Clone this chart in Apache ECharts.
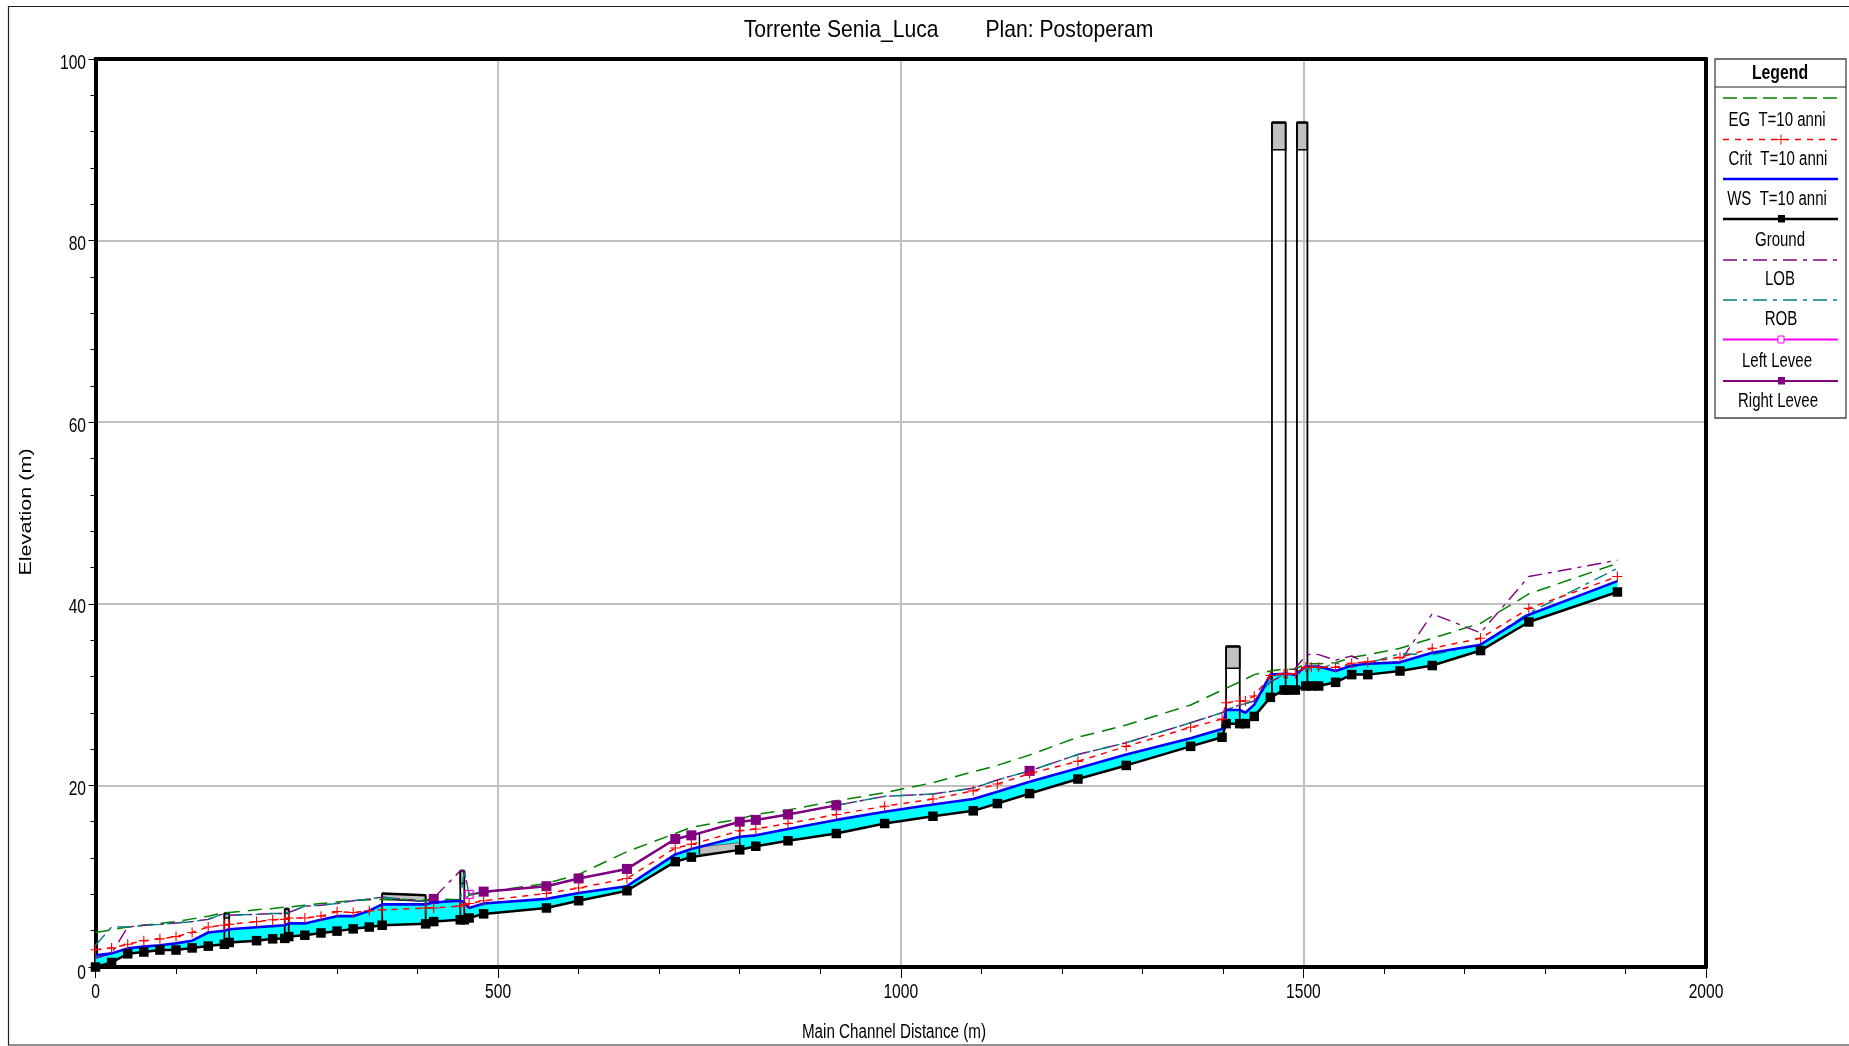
<!DOCTYPE html>
<html><head><meta charset="utf-8"><style>html,body{margin:0;padding:0;background:#fff}#c{width:1849px;height:1046px}</style>
<script src="https://cdn.jsdelivr.net/npm/echarts@6/dist/echarts.min.js"></script></head>
<body><div id="c"></div><script>
const stations=[0,20,40,60,80,100,120,140,160,166,200,220,235,240,260,280,300,320,340,356,410,420,453,458,464,482,560,600,660,720,740,800,820,860,920,980,1040,1090,1120,1160,1220,1280,1360,1399,1404,1421,1428,1439,1459,1476,1480,1490,1503,1510,1519,1540,1560,1580,1620,1660,1720,1780,1890];
const ground=[0,0.5,1.45,1.65,1.87,1.87,2.1,2.3,2.5,2.7,2.9,3.1,3.15,3.35,3.5,3.75,3.95,4.2,4.4,4.6,4.75,5,5.2,5.2,5.4,5.85,6.5,7.3,8.4,11.6,12.1,12.9,13.3,13.9,14.7,15.8,16.6,17.2,18,19.1,20.7,22.2,24.3,25.3,26.8,26.8,26.8,27.6,29.7,30.5,30.5,30.5,30.95,30.95,30.95,31.35,32.2,32.2,32.6,33.2,34.85,38,41.3];
const ws=[1.28,1.5,2.05,2.24,2.4,2.6,2.9,3.8,4,4.15,4.37,4.5,4.6,4.8,4.8,5.2,5.6,5.6,6.2,6.9,6.9,7.1,7.3,7.1,6.5,7,7.5,8.15,8.9,12.4,13,14.35,14.5,15.2,16.2,17.1,17.9,18.5,19.3,20.4,21.9,23.4,25.2,26.2,28.3,28.3,28,28.9,32.2,32.3,32.3,32.2,33.1,33.1,33.1,32.6,33.2,33.4,33.55,34.6,35.5,38.8,42.5];
const crit=[1.9,2.1,2.5,2.9,3.1,3.35,3.8,4.4,4.6,4.7,5,5.2,5.25,5.4,5.4,5.6,6.1,6,6.2,6.3,6.5,6.5,6.7,6.9,7,7.3,8.1,8.7,9.75,13.1,13.5,15,15.2,15.8,16.8,17.7,18.5,19.4,20.15,21.3,22.65,24.3,26.4,27.3,29.1,29.3,29.3,29.85,32.1,32.3,32.3,32.3,33,33,33,33,33.45,33.6,34.1,35.1,36.2,39.5,43];
const eg=[3.8,4.1,4.4,4.6,4.8,5,5.3,5.6,6,6,6.3,6.45,6.6,6.6,6.8,7,7.15,7.3,7.4,7.45,7.4,7.5,7.4,7.45,7.9,8.2,9.2,10.2,12.7,14.7,15.4,16.3,16.8,17.3,18.3,19.2,20.3,21.5,22.2,23.35,25.3,26.65,28.85,30.5,30.7,31.4,31.7,32.2,32.6,32.8,32.8,32.8,33.4,33.4,33.4,33.5,34.1,34.4,35.1,36.2,37.85,41.1,44.45];
const lob=[0.95,1.5,4.4,4.6,4.7,4.85,5,5.25,5.9,5.7,5.8,5.9,5.9,6,6.7,6.8,7,7.3,7.5,7.7,7.2,7.6,10.6,10.6,8,8.3,8.9,9.75,10.8,14.1,14.5,16,16.2,16.8,17.8,18.8,19.05,19.7,20.6,21.6,23.4,24.7,26.9,28,28.3,28.85,29,29.3,31.4,32.2,32.4,32.9,34.3,34.5,34.4,33.8,34.25,33.45,33.6,38.9,36.8,43,44.8];
const rob=[2.4,4.4,4.4,4.6,4.7,4.85,5,5.25,5.9,5.7,5.8,5.9,5.9,6,6.7,6.8,7,7.3,7.5,7.7,7.2,7.3,7.3,10.6,8,8.3,8.9,9.75,10.8,14.1,14.5,16,16.2,16.8,17.8,18.8,19.05,19.7,20.6,21.6,23.4,24.7,26.9,28,28.3,28.85,29,29.3,31.5,32.2,32.2,32.3,32.8,32.8,32.8,33.5,33,33.45,34.5,34.4,35.5,39,43.9];
const leftLeveeStations=[464];
const leftLeveeValues=[8];
const rightLeveeStations=[420,null,482,560,600,660,720,740,800,820,860,920,null,1160];
const rightLeveeValues=[7.5,null,8.3,8.9,9.75,10.8,14.1,14.5,16,16.2,16.8,17.8,null,21.6];
const structStart=[160,235,356,453,1404,1461,1492];
const structEnd=[166,240,410,458,1421,1478,1505];
const structTopStart=[5.9,6.4,8.1,10.6,35.3,93,93];
const structTopEnd=[5.9,6.4,7.9,10.6,35.3,93,93];
const structLowStart=[5.4,5.9,7.45,9.2,32.9,90,90];
const structLowEnd=[5.4,5.9,7.25,9.2,32.9,90,90];
const structBaseStart=[2.5,3.15,4.6,5.2,26.8,29.7,30.5];
const structBaseEnd=[2.7,3.35,4.75,5.2,26.8,30.5,30.95];
const weirStations=[750,800];
const weirTop=[14.7,16];
const weirHigh=[13.2,13.7];
const weirLow=[12.4,12.9];
const xTickValues=[0,500,1000,1500,2000];
const yTickValues=[0,20,40,60,80,100];
const legendNames=['EG  T=10 anni','Crit  T=10 anni','WS  T=10 anni','Ground','LOB','ROB','Left Levee','Right Levee'];

const pairs=(xs,ys)=>xs.map((x,i)=>[x,ys[i]]);
const plus='path://M4,0h1v4h4v1h-4v4h-1v-4h-4v-1h4z';
const SANS='"Liberation Sans",Arial,sans-serif';
const chart=echarts.init(document.getElementById('c'),null,{renderer:'canvas'});

function fillItem(params,api){
  const top=stations.map((x,i)=>api.coord([x,ws[i]]));
  const bot=stations.map((x,i)=>api.coord([x,ground[i]])).reverse();
  return {type:'polygon',shape:{points:top.concat(bot)},style:{fill:'#00ffff'}};
}
function structItem(params,api){
  const i=params.dataIndex, c=p=>api.coord(p);
  const a=structStart[i],b=structEnd[i];
  const line=(p,q,w)=>({type:'line',shape:{x1:c(p)[0],y1:c(p)[1],x2:c(q)[0],y2:c(q)[1]},style:{stroke:'#000',lineWidth:w}});
  return {type:'group',children:[
    {type:'polygon',shape:{points:[c([a,structTopStart[i]]),c([b,structTopEnd[i]]),c([b,structLowEnd[i]]),c([a,structLowStart[i]])]},style:{fill:'#c0c0c0',stroke:'#000',lineWidth:1.5}},
    line([a,structTopStart[i]],[b,structTopEnd[i]],2.5),
    line([a,structTopStart[i]],[a,structBaseStart[i]],1.8),
    line([b,structTopEnd[i]],[b,structBaseEnd[i]],1.8)
  ]};
}
function weirItem(params,api){
  const c=p=>api.coord(p),a=weirStations[0],b=weirStations[1];
  const line=(p,q)=>({type:'line',shape:{x1:c(p)[0],y1:c(p)[1],x2:c(q)[0],y2:c(q)[1]},style:{stroke:'#000',lineWidth:1.5}});
  return {type:'group',children:[
    {type:'polygon',shape:{points:[c([a,weirHigh[0]]),c([b,weirHigh[1]]),c([b,weirLow[1]]),c([a,weirLow[0]])]},style:{fill:'#c0c0c0',stroke:'#555',lineWidth:0.8}},
    line([a,weirTop[0]],[a,weirLow[0]]),line([b,weirTop[1]],[b,weirLow[1]])
  ]};
}
function xLabelItem(params,api){
  const v=xTickValues[params.dataIndex],p=api.coord([v,0]);
  return {type:'text',x:p[0],y:p[1]+25,scaleX:0.78,style:{text:String(v),x:0,y:0,align:'center',verticalAlign:'middle',font:'20px '+SANS,fill:'#000'}};
}
function yLabelItem(params,api){
  const v=yTickValues[params.dataIndex],p=api.coord([0,v]);
  return {type:'text',x:p[0]-9.5,y:p[1]+(v===0?6:4),scaleX:0.78,style:{text:String(v),x:0,y:0,align:'right',verticalAlign:'middle',font:'20px '+SANS,fill:'#000'}};
}
const lineSeries=(name,xs,ys,color,width,type,symbol,size,z,extra)=>Object.assign({
  name,type:'line',data:pairs(xs,ys),clip:false,z,silent:true,showSymbol:symbol!=='none',symbol,symbolSize:size,
  lineStyle:{color,width,type},itemStyle:{color},connectNulls:false,animation:false},extra||{});

const LX0=1715,LX1=1846,LY0=59,LY1=418;
const lineY=[98,139.5,179,219,260,300,339.5,381];
const labelY=[120,159,199,240,279,319,361,401];
const labelX=[1777,1778,1777,1780,1780,1781,1777,1778];
const legStyles=[
 {c:'#008000',d:[14,6],w:1.5},{c:'#ff0000',d:[6,6],w:1.5,m:'plus'},{c:'#0000ff',w:2.5},{c:'#000',w:2.5,m:'sq'},
 {c:'#800080',d:[14,6,4,6],w:1.5},{c:'#008080',d:[14,6,4,6],w:1.5},{c:'#ff00ff',w:2,m:'hollow'},{c:'#800080',w:2,m:'pf'}];
const gtext=(text,x,y,font,scaleX,extra)=>Object.assign({type:'text',x,y,scaleX,style:{text,x:0,y:0,align:'center',verticalAlign:'middle',font,fill:'#000'},z:51},extra||{});
const gfx=[
 {type:'polyline',shape:{points:[[1849,6.5],[8.5,6.5],[8.5,1045],[1849,1045]]},style:{stroke:'#222',fill:null,lineWidth:1.2},silent:true},
 {type:'rect',shape:{x:LX0,y:LY0,width:LX1-LX0,height:LY1-LY0},style:{fill:'#fff',stroke:'#444',lineWidth:1.3},z:50},
 {type:'line',shape:{x1:LX0,y1:87,x2:LX1,y2:87},style:{stroke:'#222',lineWidth:1},z:51},
 gtext('Legend',1780,73,'bold 20px '+SANS,0.79),
 gtext('Torrente Senia_Luca        Plan: Postoperam',948.5,30,'24px '+SANS,0.88),
 gtext('Main Channel Distance (m)',894,1032,'20px '+SANS,0.76),
 gtext('Elevation (m)',26,512,'17px '+SANS,1.27,{rotation:Math.PI/2})
];
legendNames.forEach((n,i)=>{
  const s=legStyles[i],y=lineY[i];
  gfx.push({type:'line',shape:{x1:1723,y1:y,x2:1838,y2:y},style:{stroke:s.c,lineWidth:s.w,lineDash:s.d||null},z:51});
  if(s.m==='sq'||s.m==='pf')gfx.push({type:'rect',shape:{x:1778,y:y-4,width:7,height:7.5},style:{fill:s.c},z:52});
  if(s.m==='hollow')gfx.push({type:'rect',shape:{x:1778,y:y-3.5,width:6,height:7},style:{fill:'#fff',stroke:s.c,lineWidth:1},z:52});
  if(s.m==='plus'){gfx.push({type:'line',shape:{x1:1776,y1:y,x2:1786,y2:y},style:{stroke:'#f00',lineWidth:1},z:52});gfx.push({type:'line',shape:{x1:1781,y1:y-5,x2:1781,y2:y+5},style:{stroke:'#f00',lineWidth:1},z:52});}
  gfx.push(gtext(n,labelX[i],labelY[i],'20px '+SANS,0.75));
});
const frameAxis={axisLine:{show:true,onZero:false,lineStyle:{color:'#000',width:4}},axisTick:{show:false},minorTick:{show:false},axisLabel:{show:false},splitLine:{show:false}};

chart.setOption({
  animation:false,backgroundColor:'#fff',
  grid:{left:95.5,right:143,top:59,bottom:79,outerBoundsMode:'none',containLabel:false},
  xAxis:[{type:'value',min:0,max:2000,interval:500,
    axisLine:{show:true,onZero:false,lineStyle:{color:'#000',width:4}},
    axisTick:{show:true,length:11,lineStyle:{color:'#000',width:1}},
    minorTick:{show:true,splitNumber:5,length:7,lineStyle:{color:'#000',width:1}},
    axisLabel:{show:false},
    splitLine:{show:true,lineStyle:{color:'#c0c0c0',width:2}}},
    Object.assign({type:'value',min:0,max:2000,position:'top'},frameAxis)],
  yAxis:[{type:'value',min:0,max:100,interval:20,
    axisLine:{show:true,onZero:false,lineStyle:{color:'#000',width:4}},
    axisTick:{show:true,length:7,lineStyle:{color:'#000',width:1}},
    minorTick:{show:true,splitNumber:5,length:5,lineStyle:{color:'#000',width:1}},
    axisLabel:{show:false},
    splitLine:{show:true,lineStyle:{color:'#c0c0c0',width:2}}},
    Object.assign({type:'value',min:0,max:100,position:'right'},frameAxis)],
  graphic:gfx,
  series:[
    {type:'custom',name:'Flow area',renderItem:fillItem,data:[0],z:2,silent:true,clip:false,encode:{x:-1,y:-1}},
    {type:'custom',name:'Structures',renderItem:structItem,data:structStart.map((x,i)=>[x,structTopStart[i]]),z:3,silent:true,clip:false},
    {type:'custom',name:'Inline weir',renderItem:weirItem,data:[0],z:3,silent:true,clip:false,encode:{x:-1,y:-1}},
    {type:'custom',name:'x tick labels',renderItem:xLabelItem,data:xTickValues.map(v=>[v,0]),z:20,silent:true,clip:false},
    {type:'custom',name:'y tick labels',renderItem:yLabelItem,data:yTickValues.map(v=>[0,v]),z:20,silent:true,clip:false},
    lineSeries('EG  T=10 anni',stations,eg,'#008000',1.5,[14,8],'none',0,5),
    lineSeries('LOB',stations,lob,'#800080',1.4,[14,6,4,6],'none',0,5),
    lineSeries('ROB',stations,rob,'#008080',1.4,[14,6,4,6],'none',0,6),
    lineSeries('Left Levee',leftLeveeStations,leftLeveeValues,'#ff00ff',2,'solid','rect',8,12,{itemStyle:{color:'rgba(255,255,255,0)',borderColor:'#ff00ff',borderWidth:1.3}}),
    lineSeries('Right Levee',rightLeveeStations,rightLeveeValues,'#800080',2.5,'solid','rect',10,8),
    lineSeries('Crit  T=10 anni',stations,crit,'#ff0000',1.5,[6,6],plus,10,12),
    lineSeries('WS  T=10 anni',stations,ws,'#0000ff',2.6,'solid','none',0,10),
    lineSeries('Ground',stations,ground,'#000',2.5,'solid','rect',9.5,11)
  ]
});
</script></body></html>
